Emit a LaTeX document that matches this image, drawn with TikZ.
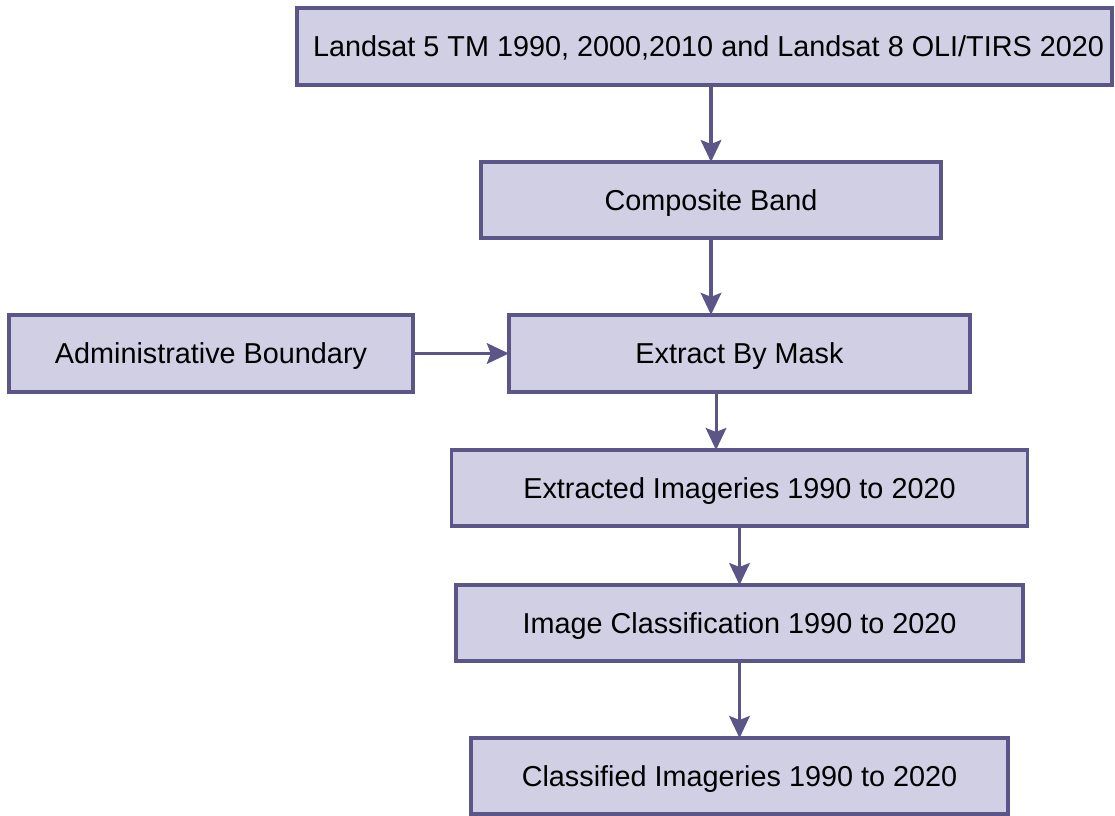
\documentclass[tikz,border=0pt]{standalone}
\usepackage{fontspec}
\setmainfont{Liberation Sans}
\usetikzlibrary{arrows.meta}
\definecolor{boxfill}{HTML}{D0CFE4}
\definecolor{boxline}{HTML}{5B5588}
\tikzset{
  flowbox/.style={rectangle, draw=boxline, fill=boxfill, line width=2.6pt,
    inner sep=0pt, outer sep=0pt, font=\fontsize{21.6}{26}\selectfont, text=black,
    text height=15.5pt, text depth=0pt},
  flowarrow/.style={draw=boxline, line width=2.3pt,
    -{Stealth[length=16.5pt, width=15.5pt, inset=3pt]}}
}
\begin{document}
\begin{tikzpicture}[x=0.75pt, y=-0.75pt]
  \useasboundingbox (0,0) rectangle (1115,816);
  \node[flowbox, minimum width=611pt, minimum height=58pt] (src) at (704.5,46.5)
    {\hspace*{6pt}Landsat 5 TM 1990, 2000,2010 and Landsat 8 OLI/TIRS 2020};
  \node[flowbox, minimum width=345pt, minimum height=57pt] (comp) at (711,200)
    {Composite Band};
  \node[flowbox, minimum width=303pt, minimum height=58pt] (admin) at (211,353.5)
    {Administrative Boundary};
  \node[flowbox, minimum width=346pt, minimum height=58pt] (mask) at (739.5,353.5)
    {Extract By Mask};
  \node[flowbox, minimum width=432pt, minimum height=57pt] (extr) at (739.5,488)
    {Extracted Imageries 1990 to 2020};
  \node[flowbox, minimum width=425pt, minimum height=57pt] (cls) at (739.5,623)
    {Image Classification 1990 to 2020};
  \node[flowbox, minimum width=403pt, minimum height=57pt] (clsd) at (739.5,776)
    {Classified Imageries 1990 to 2020};

  \draw[flowarrow] (src.south -| comp.north) -- (comp.north);
  \draw[flowarrow] (comp.south) -- (comp.south |- mask.north);
  \draw[flowarrow] (admin.east) -- (mask.west);
  \draw[flowarrow] ([xshift=-17.6pt]mask.south) -- ([xshift=-17.6pt]mask.south |- extr.north);
  \draw[flowarrow] (extr.south) -- (extr.south |- cls.north);
  \draw[flowarrow] (cls.south) -- (cls.south |- clsd.north);
\end{tikzpicture}
\end{document}
